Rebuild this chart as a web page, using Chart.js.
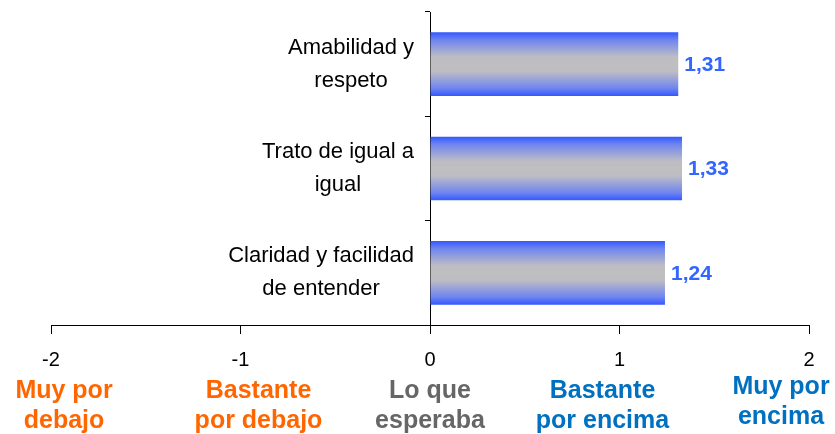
<!DOCTYPE html>
<html><head><meta charset="utf-8">
<script src="https://cdn.jsdelivr.net/npm/chart.js@4/dist/chart.umd.min.js"></script>
<style>html,body{margin:0;padding:0;background:#fff}#wrap{width:835px;height:434px;position:relative}</style>
</head><body><div id="wrap"><canvas id="c"></canvas></div>
<script>
// ---- data ----
const categories = [['Amabilidad y', 'respeto'], ['Trato de igual a', 'igual'], ['Claridad y facilidad', 'de entender']];
const values = [1.31, 1.33, 1.24];
const xTicks = [-2, -1, 0, 1, 2];
const scaleLabels = [['Muy por', 'debajo'], ['Bastante', 'por debajo'], ['Lo que', 'esperaba'], ['Bastante', 'por encima'], ['Muy por', 'encima']];

// ---- styles ----
const FONT = '"Liberation Sans", Arial, sans-serif';
const scaleLabelStyle = {
  colors: ['#ff6600', '#ff6600', '#666666', '#0070c0', '#0070c0'],
  dx: [13, 18, 0, -17, -28],
  dy: [0, 0, 0, 0, -4]
};

const drawPlugin = {
  id: 'custom',
  beforeDatasetsDraw(chart) {
    const meta = chart.getDatasetMeta(0);
    const ctx = chart.ctx;
    meta.data.forEach(el => {
      const top = el.y - el.height / 2, bot = el.y + el.height / 2;
      const g = ctx.createLinearGradient(0, top, 0, bot);
      g.addColorStop(0, '#3358ff');
      g.addColorStop(0.12, '#6f85f0');
      g.addColorStop(0.38, '#bcbcc4');
      g.addColorStop(0.5, '#bfbfbf');
      g.addColorStop(0.62, '#bcbcc4');
      g.addColorStop(0.88, '#6f85f0');
      g.addColorStop(1, '#3358ff');
      el.options = Object.assign({}, el.options, { backgroundColor: g });
    });
  },
  afterDraw(chart) {
    const ctx = chart.ctx;
    const xs = chart.scales.x, ys = chart.scales.y;
    const x0 = xs.getPixelForValue(0);
    ctx.save();
    // category labels
    ctx.font = '22px ' + FONT;
    ctx.fillStyle = '#000';
    ctx.textAlign = 'center';
    ctx.textBaseline = 'middle';
    categories.forEach((lines, i) => {
      const yc = ys.getPixelForValue(i);
      const maxW = Math.max(...lines.map(l => ctx.measureText(l).width));
      const cx = x0 - 16 - maxW / 2;
      lines.forEach((l, k) => {
        ctx.fillText(l, cx, yc + (k - (lines.length - 1) / 2) * 33);
      });
    });
    // value labels
    const meta = chart.getDatasetMeta(0);
    ctx.font = 'bold 21px ' + FONT;
    ctx.fillStyle = '#3366ff';
    ctx.textAlign = 'left';
    meta.data.forEach((el, i) => {
      ctx.fillText(values[i].toFixed(2).replace('.', ','), el.x + 6, el.y + 1);
    });
    // scale descriptor labels
    ctx.font = 'bold 25px ' + FONT;
    ctx.textAlign = 'center';
    ctx.textBaseline = 'alphabetic';
    const bottom = chart.chartArea.bottom;
    scaleLabels.forEach((lines, i) => {
      const cx = xs.getPixelForValue(xTicks[i]) + scaleLabelStyle.dx[i];
      ctx.fillStyle = scaleLabelStyle.colors[i];
      lines.forEach((l, k) => {
        ctx.fillText(l, cx, bottom + 73 + k * 30 + scaleLabelStyle.dy[i]);
      });
    });
    ctx.restore();
  }
};

new Chart(document.getElementById('c'), {
  type: 'bar',
  data: {
    labels: categories,
    datasets: [{
      data: values,
      backgroundColor: '#c0c0c0',
      borderWidth: 0,
      barPercentage: 0.61,
      categoryPercentage: 1
    }]
  },
  options: {
    indexAxis: 'y',
    responsive: true,
    maintainAspectRatio: false,
    animation: false,
    layout: { padding: { left: 51, right: 26, top: 12, bottom: 0 } },
    plugins: { legend: { display: false }, tooltip: { enabled: false } },
    scales: {
      x: {
        type: 'linear',
        min: -2, max: 2,
        afterBuildTicks: s => { s.ticks = xTicks.map(v => ({ value: v })); },
        afterFit: s => { s.height = 109; },
        grid: { drawOnChartArea: false, drawTicks: true, tickLength: 9, color: '#000' },
        border: { color: '#000', width: 1 },
        ticks: { color: '#000', padding: 14, font: { family: FONT, size: 20 }, maxRotation: 0 }
      },
      y: {
        type: 'category',
        position: { x: 0 },
        offset: true,
        grid: { offset: true, drawOnChartArea: false, drawTicks: true, tickLength: 5, color: '#000' },
        border: { color: '#000', width: 1 },
        ticks: { display: false }
      }
    }
  },
  plugins: [drawPlugin]
});
</script>
</body></html>
